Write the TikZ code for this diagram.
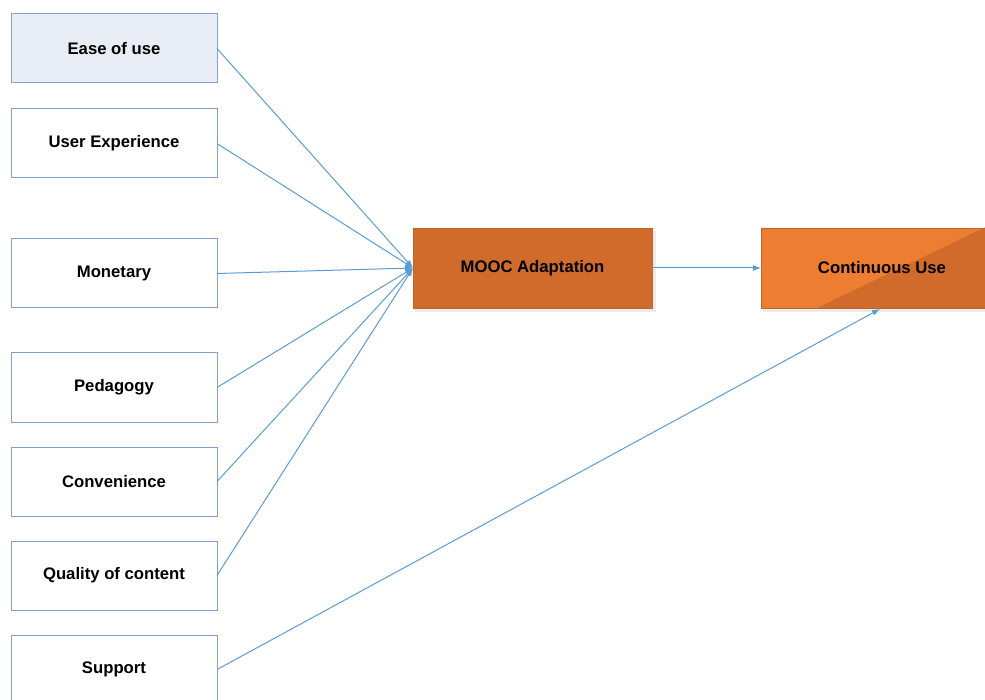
\documentclass[tikz,border=0pt]{standalone}
\usepackage{fontspec}
\setmainfont{Liberation Sans}
\usetikzlibrary{arrows.meta}
\definecolor{lineblue}{RGB}{91,155,213}
\definecolor{boxedge}{RGB}{128,160,205}
\definecolor{easefill}{RGB}{233,237,245}
\definecolor{darkorange}{RGB}{208,107,44}
\definecolor{lightorange}{RGB}{237,125,49}
\definecolor{orangeedge}{RGB}{190,100,45}
\tikzset{
  x=1pt, y=-1pt,
  lbl/.style={font=\fontsize{16.7}{19}\selectfont\bfseries},
  lbox/.style={lbl, draw=boxedge, line width=1pt, fill=white, minimum width=206pt, minimum height=69pt,
    inner sep=0pt, outer sep=0pt},
  obox/.style={lbl, draw=orangeedge, line width=0.8pt, inner sep=0pt, outer sep=0pt, minimum height=80pt},
  conn/.style={draw=lineblue, line width=1pt, -{Latex[length=8pt,width=6pt]}},
}
\begin{document}
\begin{tikzpicture}
\useasboundingbox (0,0) rectangle (985,700);
\begin{scope}
\clip (0,0) rectangle (985,700);
% shadows
\fill[black, opacity=0.08] (415,231) rectangle (656,312);
\fill[black, opacity=0.08] (763,231) rectangle (988,312);
% left boxes
\node[lbox, fill=easefill] (ease) at (114,48.5) {Ease of use};
\node[lbox] (ux) at (114,143.5) {User Experience};
\node[lbox] (mon) at (114,273.5) {Monetary};
\node[lbox] (ped) at (114,387.5) {Pedagogy};
\node[lbox] (conv) at (114,481.5) {Convenience};
\node[lbox] (qual) at (114,575.5) {Quality of content};
\node[lbox] (sup) at (114,669.5) {Support};
% MOOC
\node[obox, fill=darkorange, minimum width=239pt] (mooc) at (532.5,268) {MOOC Adaptation};
% Continuous use
\node[obox, minimum width=224pt] (cont) at (873,268) {};
\begin{scope}
\clip (cont.south west) rectangle (cont.north east);
\fill[lightorange] (cont.south west) rectangle (cont.north east);
\fill[darkorange] (815,309) -- (990,225) -- (990,309) -- cycle;
\end{scope}
\draw[orangeedge, line width=0.8pt] (cont.south west) rectangle (cont.north east);
\node[lbl] (contlabel) at (cont.center) {\hspace*{18pt}Continuous Use};
\coordinate (hub) at (mooc.west);
\coordinate (supend) at (880,309);
% connectors
\foreach \n in {ease,ux,mon,ped,conv,qual}
  \draw[conn] (\n.east) -- (hub);
\draw[conn] (mooc.east) -- (cont.west);
\draw[conn] (sup.east) -- (supend);
\end{scope}
\end{tikzpicture}
\end{document}
